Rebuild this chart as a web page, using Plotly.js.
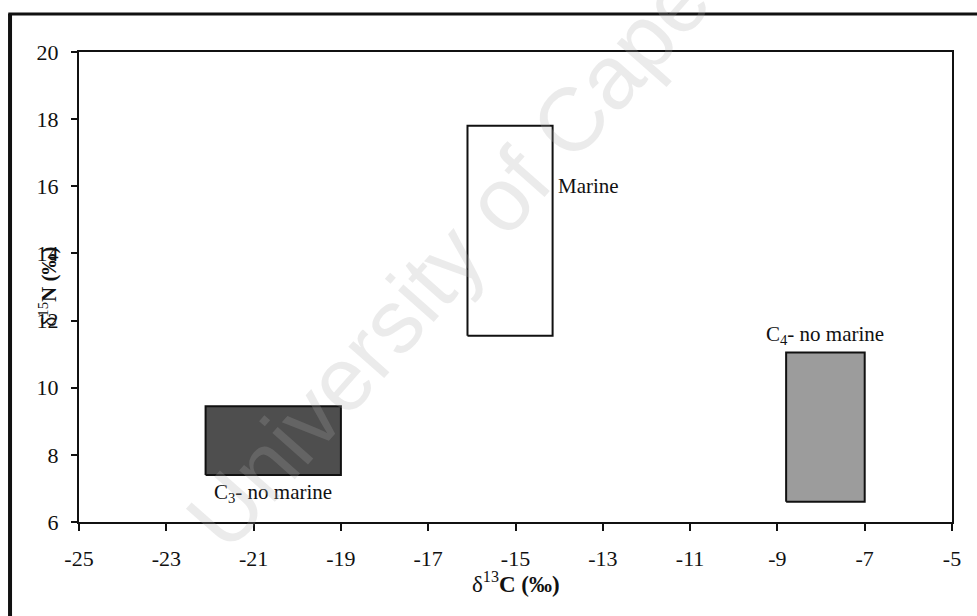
<!DOCTYPE html>
<html>
<head>
<meta charset="utf-8">
<script src="https://cdn.plot.ly/plotly-3.0.1.min.js"></script>
<style>html,body{margin:0;padding:0;background:#fff;}#chart{width:977px;height:616px;}</style>
</head>
<body>
<div id="chart"></div>
<script>
// Data
const groups = ['C<sub>3</sub>- no marine', 'Marine', 'C<sub>4</sub>- no marine'];
const xMin = [-22.1, -16.1, -8.8];   // δ13C lower bound (‰)
const xMax = [-19.0, -14.15, -7.0];  // δ13C upper bound (‰)
const yMin = [7.4, 11.55, 6.6];      // δ15N lower bound (‰)
const yMax = [9.45, 17.8, 11.05];    // δ15N upper bound (‰)
const xTicks = [-25, -23, -21, -19, -17, -15, -13, -11, -9, -7, -5];
const yTicks = [6, 8, 10, 12, 14, 16, 18, 20];

const fills = ['#4e4e4e', '#ffffff', '#9c9c9c'];
const serif = 'Liberation Serif, Times New Roman, serif';

const traces = groups.map((g, i) => ({
  type: 'scatter', mode: 'lines', fill: 'toself',
  x: [xMin[i], xMax[i], xMax[i], xMin[i], xMin[i]],
  y: [yMin[i], yMin[i], yMax[i], yMax[i], yMin[i]],
  fillcolor: fills[i],
  line: {color: '#111', width: 2},
  hoverinfo: 'skip', showlegend: false
}));

const labelFont = {family: serif, size: 21, color: '#111'};
const annotations = [
  {text: groups[0], x: (xMin[0] + xMax[0]) / 2, y: yMin[0], xref: 'x', yref: 'y',
   xanchor: 'center', yanchor: 'top', yshift: -3, showarrow: false, font: labelFont},
  {text: groups[1], x: xMax[1], y: 16.0, xref: 'x', yref: 'y',
   xanchor: 'left', yanchor: 'middle', xshift: 3, showarrow: false, font: labelFont},
  {text: groups[2], x: (xMin[2] + xMax[2]) / 2, y: yMax[2], xref: 'x', yref: 'y',
   xanchor: 'center', yanchor: 'bottom', yshift: 2, showarrow: false, font: labelFont},
  {text: 'δ<sup>15</sup><b>N (‰)</b>', xref: 'paper', yref: 'paper', x: -0.036, y: 0.5,
   xanchor: 'center', yanchor: 'middle', textangle: -90, showarrow: false,
   font: {family: serif, size: 21, color: '#111'}},
  {text: 'δ<sup>13</sup><b>C (‰)</b>', xref: 'paper', yref: 'paper', x: 0.5, y: -0.128,
   xanchor: 'center', yanchor: 'middle', showarrow: false,
   font: {family: serif, size: 23, color: '#111'}},
  {text: 'University of Cape Town', xref: 'paper', yref: 'paper', x: 0.511, y: 0.745,
   xanchor: 'center', yanchor: 'middle', textangle: -48.5, showarrow: false,
   font: {family: 'Liberation Sans, Arial, sans-serif', size: 90, color: 'rgba(170,170,170,0.24)'}}
];

const axisCommon = {
  showgrid: false, zeroline: false, showline: true, mirror: true,
  linecolor: '#111', linewidth: 2, ticks: 'outside', ticklen: 7, tickwidth: 2,
  tickcolor: '#111', tickfont: {family: serif, size: 22, color: '#111'}, fixedrange: true
};

const layout = {
  width: 977, height: 616,
  margin: {l: 79, r: 25, t: 52, b: 94},
  paper_bgcolor: '#fff', plot_bgcolor: '#fff',
  font: {family: serif, size: 20, color: '#111'},
  xaxis: Object.assign({}, axisCommon, {range: [-25, -5], tickmode: 'array', tickvals: xTicks,
    ticktext: xTicks.map(String), ticklabelstandoff: 9}),
  yaxis: Object.assign({}, axisCommon, {range: [6, 20], tickmode: 'array', tickvals: yTicks,
    ticktext: yTicks.map(String), ticklen: 6, ticklabelstandoff: 8}),
  annotations: annotations,
  shapes: [
    {type: 'line', xref: 'paper', yref: 'paper', x0: -0.079, x1: -0.079, y0: -0.3, y1: 1.0815,
     line: {color: '#111', width: 4}},
    {type: 'line', xref: 'paper', yref: 'paper', x0: -0.081, x1: 1.2, y0: 1.0809, y1: 1.0809,
     line: {color: '#111', width: 3}}
  ],
  showlegend: false
};

Plotly.newPlot('chart', traces, layout, {displayModeBar: false, staticPlot: true});
</script>
</body>
</html>
